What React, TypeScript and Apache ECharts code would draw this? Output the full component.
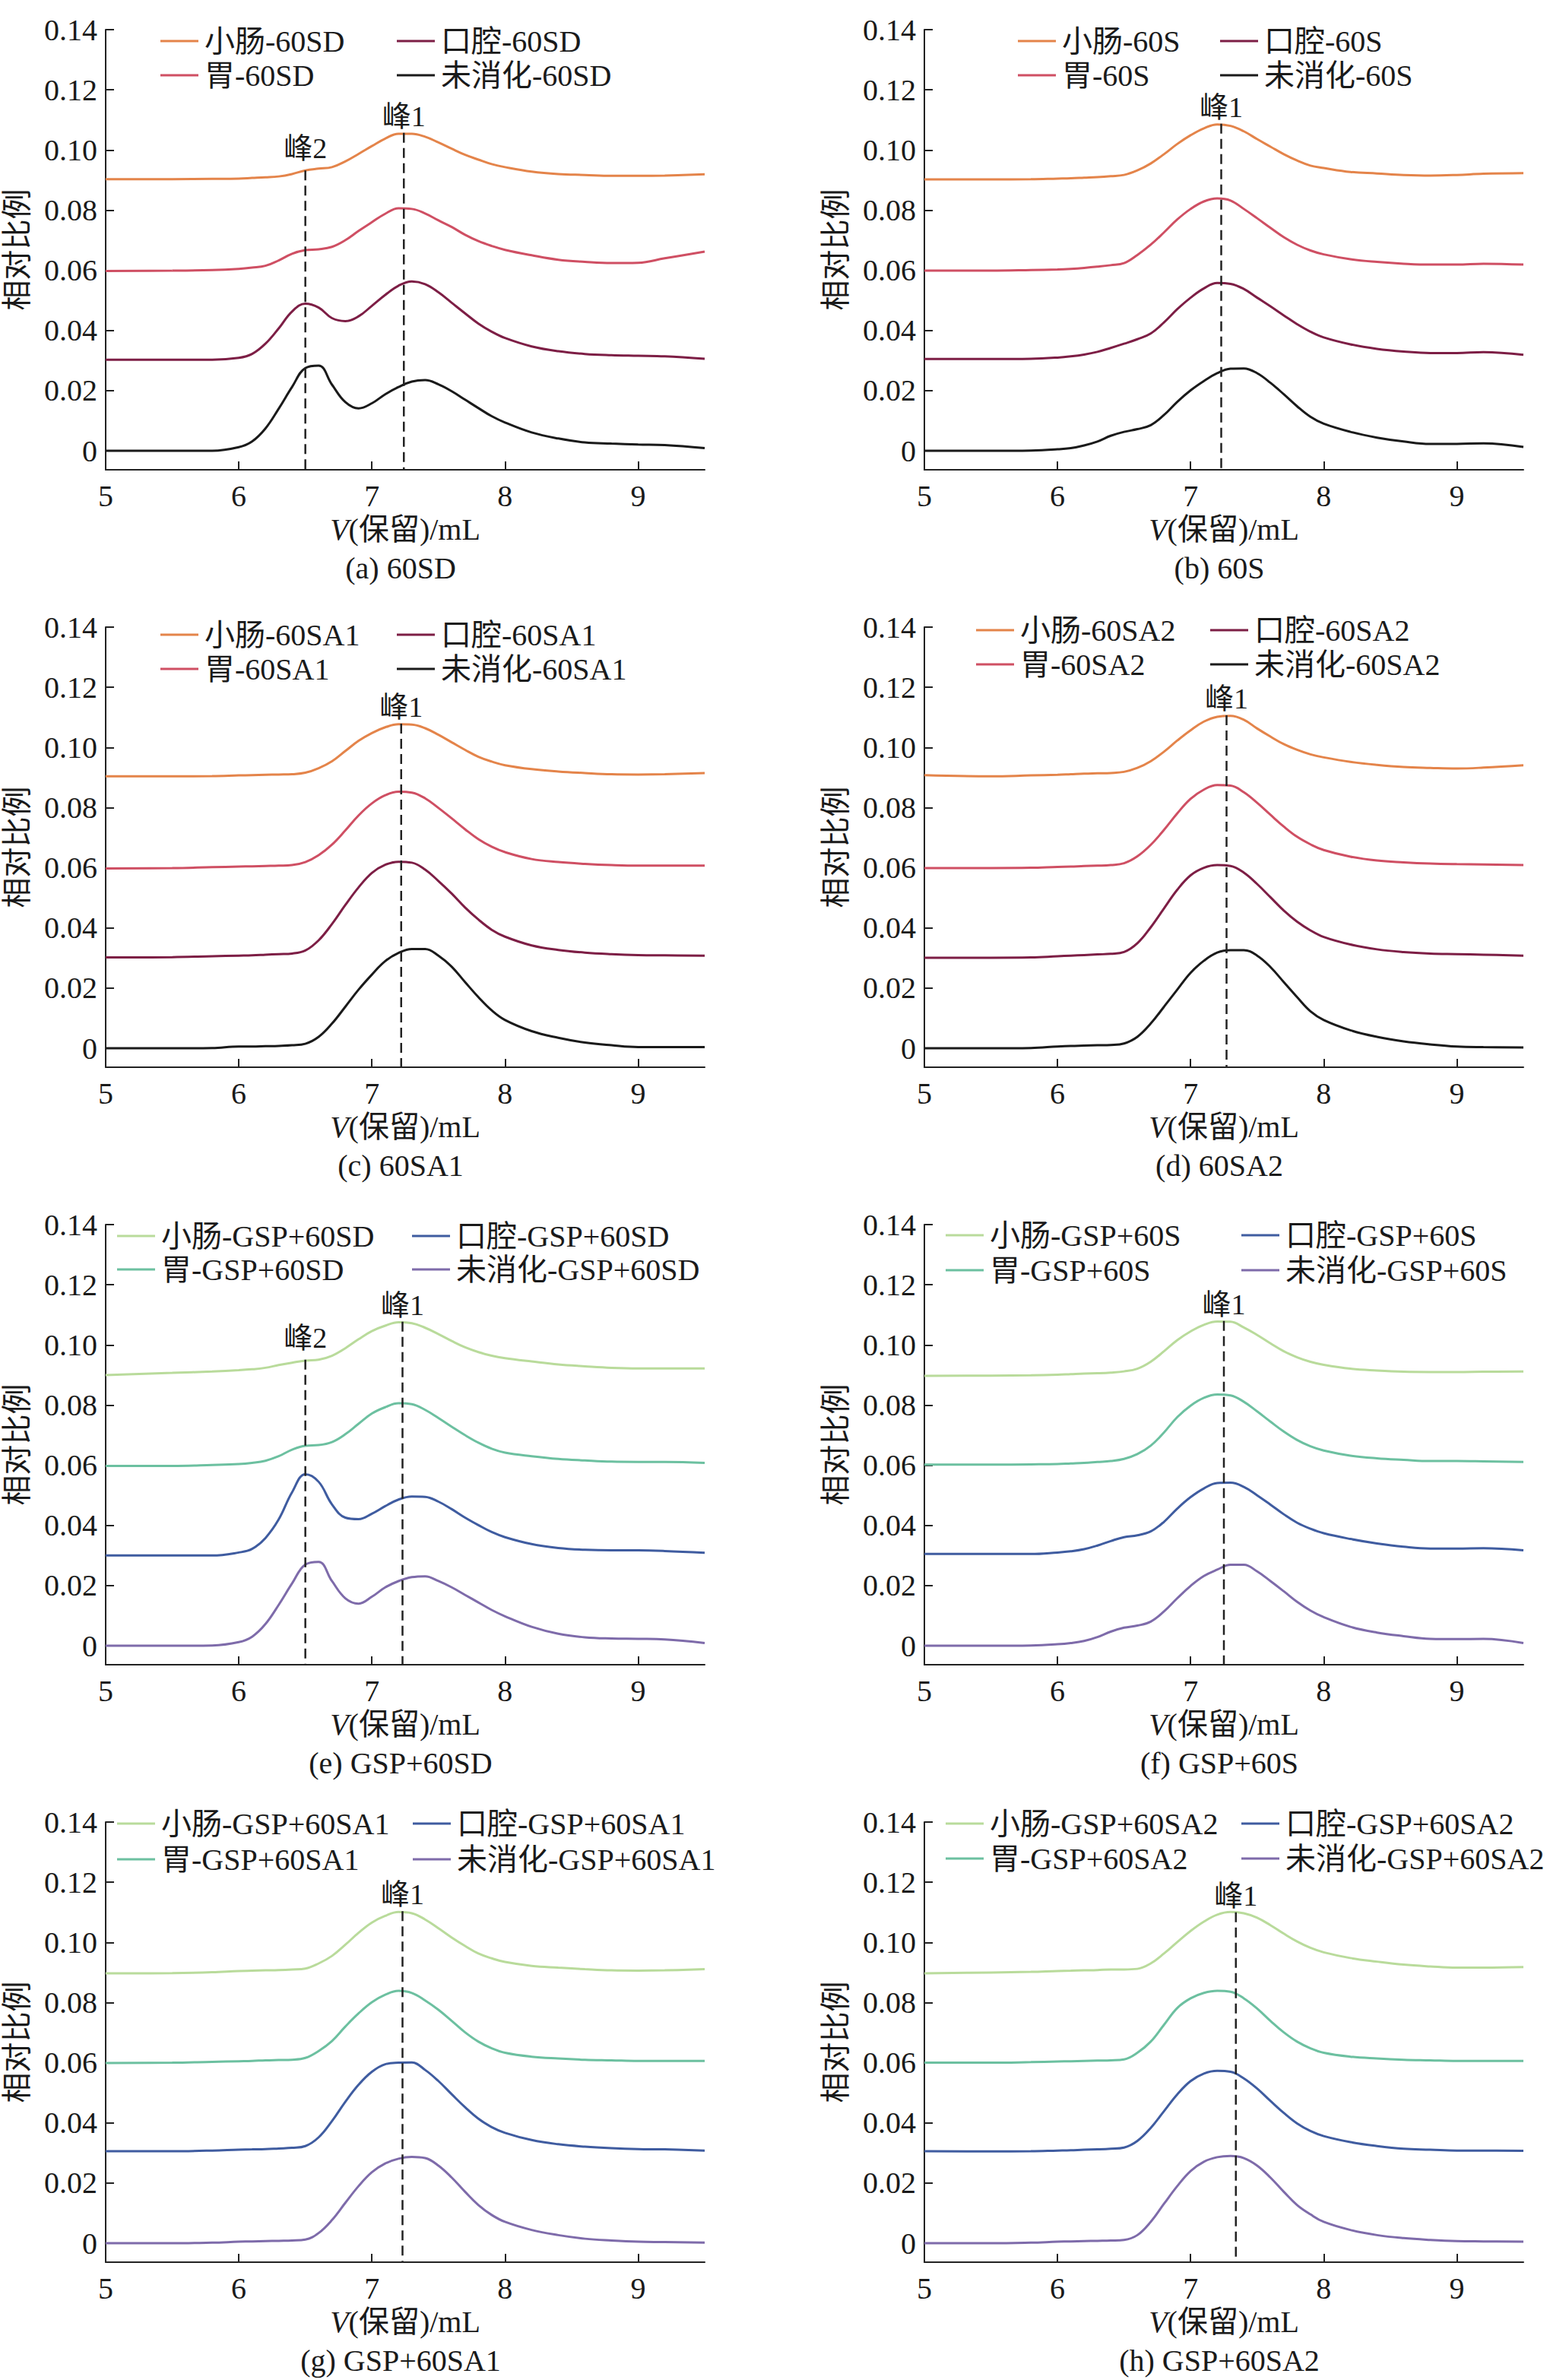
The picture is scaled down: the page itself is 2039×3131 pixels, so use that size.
import React, { useEffect, useRef } from "react";
import * as echarts from "echarts";

// ---------- shared axes ----------
const X = [5.0, 5.5, 5.8, 6.0, 6.1, 6.2, 6.3, 6.4, 6.5, 6.6, 6.7, 6.8, 6.9, 7.0, 7.1, 7.2, 7.3, 7.4, 7.5, 7.6, 7.7, 7.8, 7.9, 8.0, 8.2, 8.4, 8.6, 8.8, 9.0, 9.2, 9.5];
const X_TICKS = [5, 6, 7, 8, 9];
const Y_TICKS = [0, 0.02, 0.04, 0.06, 0.08, 0.1, 0.12, 0.14];
const X_MIN = 5;
const X_MAX = 9.5;
const Y_MIN = -0.0063;
const Y_MAX = 0.14;
const STAGES = ["小肠", "胃", "口腔", "未消化"];
const X_NAME = "{i|V}(保留)/mL";
const Y_NAME = "相对比例";

// ---------- (a) 60SD ----------
const SD_XC = [.0903, .0903, .0904, .0905, .0907, .0909, .0912, .0920, .0932, .0938, .0943, .0962, .0987, .1013, .1038, .1054, .1054, .1044, .1025, .1004, .0984, .0968, .0953, .0943, .0928, .0920, .0917, .0914, .0914, .0915, .0919];
const SD_WEI = [.0598, .0599, .0601, .0605, .0609, .0615, .0633, .0655, .0667, .0670, .0678, .0700, .0731, .0760, .0788, .0806, .0804, .0789, .0766, .0744, .0718, .0697, .0681, .0668, .0650, .0635, .0628, .0624, .0625, .0640, .0662];
const SD_KQ = [.0303, .0303, .0303, .0309, .0322, .0356, .0407, .0463, .0489, .0476, .0441, .0431, .0447, .0482, .0518, .0549, .0563, .0554, .0527, .0492, .0457, .0423, .0396, .0375, .0347, .0331, .0322, .0318, .0316, .0314, .0306];
const SD_WXH = [0, 0, 0, .0012, .0031, .0074, .0140, .0212, .0275, .0283, .0220, .0162, .0141, .0158, .0188, .0212, .0230, .0235, .0221, .0198, .0170, .0142, .0115, .0094, .0061, .0041, .0028, .0024, .0021, .0019, .0009];

// ---------- (b) 60S ----------
const S_XC = [.0902, .0902, .0903, .0905, .0906, .0908, .0910, .0913, .0917, .0932, .0955, .0986, .1020, .1049, .1072, .1085, .1080, .1062, .1036, .1011, .0986, .0965, .0948, .0940, .0927, .0922, .0917, .0915, .0917, .0921, .0923];
const S_WEI = [.0599, .0599, .0601, .0603, .0605, .0608, .0612, .0617, .0624, .0651, .0685, .0726, .0769, .0804, .0829, .0839, .0832, .0804, .0773, .0741, .0710, .0685, .0666, .0653, .0637, .0628, .0622, .0619, .0619, .0622, .0619];
const S_KQ = [.0305, .0305, .0306, .0310, .0314, .0320, .0329, .0342, .0356, .0371, .0390, .0427, .0471, .0509, .0540, .0558, .0555, .0538, .0509, .0480, .0450, .0421, .0396, .0377, .0354, .0339, .0330, .0325, .0325, .0328, .0319];
const S_WXH = [0, 0, .0001, .0005, .0009, .0018, .0031, .0050, .0063, .0072, .0085, .0119, .0163, .0201, .0232, .0258, .0273, .0274, .0258, .0226, .0188, .0148, .0113, .0090, .0063, .0044, .0031, .0023, .0023, .0025, .0013];

// ---------- (c) 60SA1 ----------
const SA1_XC = [.0904, .0904, .0905, .0907, .0908, .0909, .0910, .0911, .0916, .0931, .0954, .0988, .1022, .1048, .1067, .1077, .1076, .1064, .1042, .1017, .0992, .0969, .0953, .0941, .0928, .0920, .0915, .0911, .0910, .0911, .0915];
const SA1_WEI = [.0598, .0599, .0602, .0604, .0605, .0606, .0607, .0609, .0619, .0642, .0677, .0724, .0774, .0814, .0841, .0853, .0850, .0831, .0799, .0764, .0728, .0695, .0670, .0652, .0629, .0619, .0613, .0609, .0607, .0607, .0607];
const SA1_KQ = [.0302, .0303, .0306, .0308, .0309, .0311, .0313, .0315, .0325, .0359, .0413, .0476, .0535, .0583, .0610, .0620, .0617, .0594, .0556, .0514, .0468, .0428, .0394, .0371, .0342, .0327, .0318, .0313, .0310, .0309, .0308];
const SA1_WXH = [0, 0, .0001, .0006, .0006, .0007, .0008, .0010, .0015, .0038, .0082, .0138, .0195, .0245, .0290, .0317, .0330, .0330, .0308, .0271, .0220, .0170, .0126, .0094, .0057, .0035, .0019, .0010, .0004, .0004, .0004];

// ---------- (d) 60SA2 ----------
const SA2_XC = [.0908, .0904, .0907, .0909, .0911, .0913, .0914, .0915, .0919, .0932, .0954, .0986, .1023, .1057, .1086, .1102, .1105, .1092, .1063, .1036, .1011, .0992, .0977, .0967, .0952, .0942, .0935, .0932, .0930, .0933, .0941];
const SA2_WEI = [.0599, .0599, .0600, .0603, .0604, .0606, .0607, .0609, .0615, .0638, .0676, .0726, .0781, .0829, .0860, .0875, .0873, .0851, .0816, .0776, .0737, .0703, .0678, .0659, .0637, .0624, .0618, .0614, .0612, .0611, .0609];
const SA2_KQ = [.0301, .0301, .0302, .0306, .0308, .0310, .0312, .0314, .0320, .0349, .0402, .0465, .0527, .0575, .0600, .0609, .0606, .0584, .0546, .0502, .0458, .0421, .0392, .0370, .0345, .0329, .0320, .0315, .0313, .0311, .0308];
const SA2_WXH = [0, 0, .0001, .0006, .0008, .0009, .0010, .0011, .0016, .0038, .0082, .0138, .0195, .0251, .0291, .0318, .0326, .0326, .0308, .0270, .0220, .0170, .0123, .0094, .0060, .0038, .0023, .0013, .0006, .0004, .0003];

// ---------- (e) GSP+60SD ----------
const GSD_XC = [.0900, .0907, .0912, .0916, .0919, .0924, .0933, .0941, .0948, .0951, .0964, .0989, .1019, .1046, .1064, .1075, .1072, .1057, .1036, .1013, .0992, .0976, .0964, .0956, .0945, .0935, .0929, .0924, .0922, .0922, .0922];
const GSD_WEI = [.0598, .0598, .0601, .0604, .0608, .0615, .0630, .0652, .0665, .0667, .0677, .0703, .0738, .0772, .0793, .0806, .0803, .0784, .0757, .0728, .0700, .0675, .0655, .0642, .0630, .0621, .0616, .0612, .0611, .0611, .0608];
const GSD_KQ = [.0300, .0300, .0300, .0310, .0322, .0358, .0420, .0510, .0570, .0545, .0470, .0426, .0421, .0439, .0464, .0486, .0496, .0495, .0479, .0454, .0426, .0401, .0378, .0361, .0338, .0325, .0319, .0317, .0317, .0315, .0309];
const GSD_WXH = [0, 0, .0001, .0012, .0030, .0072, .0136, .0207, .0270, .0279, .0215, .0158, .0140, .0163, .0194, .0215, .0228, .0231, .0215, .0194, .0169, .0144, .0119, .0098, .0063, .0040, .0028, .0024, .0023, .0021, .0009];

// ---------- (f) GSP+60S ----------
const GS_XC = [.0897, .0898, .0899, .0901, .0903, .0905, .0906, .0908, .0912, .0921, .0944, .0979, .1016, .1045, .1067, .1078, .1077, .1058, .1033, .1005, .0979, .0959, .0944, .0934, .0921, .0915, .0911, .0910, .0910, .0911, .0912];
const GS_WEI = [.0602, .0602, .0603, .0604, .0606, .0608, .0611, .0614, .0621, .0637, .0665, .0709, .0760, .0798, .0824, .0835, .0832, .0811, .0779, .0745, .0712, .0684, .0663, .0649, .0632, .0623, .0618, .0614, .0614, .0613, .0611];
const GS_KQ = [.0305, .0305, .0305, .0310, .0314, .0321, .0333, .0348, .0361, .0367, .0380, .0412, .0456, .0494, .0523, .0541, .0542, .0528, .0500, .0469, .0437, .0409, .0389, .0374, .0355, .0340, .0329, .0323, .0323, .0324, .0317];
const GS_WXH = [0, 0, .0001, .0005, .0009, .0016, .0029, .0047, .0060, .0067, .0080, .0114, .0158, .0199, .0232, .0253, .0269, .0269, .0247, .0215, .0181, .0146, .0117, .0095, .0063, .0044, .0032, .0023, .0022, .0023, .0009];

// ---------- (g) GSP+60SA1 ----------
const GA1_XC = [.0897, .0898, .0901, .0905, .0906, .0907, .0908, .0910, .0913, .0930, .0955, .0992, .1032, .1066, .1088, .1101, .1097, .1076, .1047, .1016, .0988, .0963, .0947, .0935, .0922, .0916, .0911, .0907, .0906, .0907, .0911];
const GA1_WEI = [.0599, .0600, .0603, .0605, .0606, .0608, .0609, .0610, .0616, .0639, .0672, .0720, .0764, .0801, .0826, .0839, .0832, .0807, .0776, .0739, .0701, .0670, .0648, .0633, .0620, .0614, .0610, .0608, .0606, .0606, .0606];
const GA1_KQ = [.0306, .0306, .0308, .0311, .0312, .0313, .0315, .0317, .0323, .0352, .0406, .0470, .0527, .0570, .0595, .0600, .0601, .0576, .0539, .0495, .0452, .0414, .0386, .0367, .0343, .0329, .0321, .0316, .0313, .0312, .0308];
const GA1_WXH = [0, 0, .0002, .0005, .0006, .0007, .0008, .0009, .0012, .0034, .0077, .0134, .0190, .0236, .0265, .0281, .0287, .0283, .0258, .0218, .0171, .0127, .0094, .0071, .0044, .0027, .0015, .0009, .0005, .0004, .0002];

// ---------- (h) GSP+60SA2 ----------
const GA2_XC = [.0897, .0900, .0902, .0905, .0906, .0907, .0908, .0910, .0910, .0912, .0930, .0963, .1001, .1038, .1069, .1092, .1101, .1097, .1082, .1057, .1029, .1003, .0982, .0967, .0948, .0936, .0926, .0920, .0916, .0916, .0918];
const GA2_WEI = [.0600, .0600, .0602, .0604, .0605, .0606, .0607, .0608, .0611, .0633, .0670, .0726, .0782, .0814, .0832, .0839, .0836, .0814, .0780, .0739, .0701, .0670, .0648, .0633, .0620, .0614, .0610, .0608, .0606, .0606, .0606];
const GA2_KQ = [.0306, .0305, .0306, .0308, .0309, .0311, .0312, .0314, .0318, .0340, .0383, .0439, .0495, .0539, .0564, .0573, .0570, .0548, .0514, .0473, .0433, .0398, .0373, .0356, .0336, .0323, .0314, .0311, .0308, .0308, .0307];
const GA2_WXH = [0, 0, .0002, .0005, .0006, .0007, .0008, .0009, .0011, .0027, .0071, .0131, .0190, .0240, .0271, .0286, .0290, .0283, .0258, .0218, .0171, .0127, .0096, .0071, .0044, .0027, .0017, .0011, .0007, .0006, .0005];

// ---------- peaks (label, x, top of dashed line) ----------
const PEAKS_A = [{ label: "峰2", x: 6.5, top: 0.0932 }, { label: "峰1", x: 7.24, top: 0.1057 }];
const PEAKS_B = [{ label: "峰1", x: 7.23, top: 0.1087 }];
const PEAKS_C = [{ label: "峰1", x: 7.22, top: 0.1079 }];
const PEAKS_D = [{ label: "峰1", x: 7.27, top: 0.1107 }];
const PEAKS_E = [{ label: "峰2", x: 6.5, top: 0.0951 }, { label: "峰1", x: 7.23, top: 0.1077 }];
const PEAKS_F = [{ label: "峰1", x: 7.25, top: 0.108 }];
const PEAKS_G = [{ label: "峰1", x: 7.23, top: 0.1104 }];
const PEAKS_H = [{ label: "峰1", x: 7.34, top: 0.11 }];

// ---------- styles ----------
const PALETTE_A = ["#E4844A", "#CF4F63", "#7D1E45", "#1A1A1A"];
const PALETTE_B = ["#B9DB9B", "#6CC0A0", "#3F5CA0", "#7E6BAA"];
const FONT = "'Liberation Serif', 'Times New Roman', 'Noto Sans CJK SC', serif";
const TXT = "#1a1a1a";
const AXIS = "#222";

type Peak = { label: string; x: number; top: number };
type Spec = {
  tag: string;
  sample: string;
  row: number;
  col: number;
  series: number[][];
  palette: string[];
  peaks: Peak[];
  leg: number[]; // colA left, colB left, row1 center, row2 center
};

const PANELS: Spec[] = [
  { tag: "(a)", sample: "60SD", row: 0, col: 0, series: [SD_XC, SD_WEI, SD_KQ, SD_WXH], palette: PALETTE_A, peaks: PEAKS_A, leg: [211, 522, 55, 100] },
  { tag: "(b)", sample: "60S", row: 0, col: 1, series: [S_XC, S_WEI, S_KQ, S_WXH], palette: PALETTE_A, peaks: PEAKS_B, leg: [262, 528, 55, 100] },
  { tag: "(c)", sample: "60SA1", row: 1, col: 0, series: [SA1_XC, SA1_WEI, SA1_KQ, SA1_WXH], palette: PALETTE_A, peaks: PEAKS_C, leg: [211, 522, 50, 95] },
  { tag: "(d)", sample: "60SA2", row: 1, col: 1, series: [SA2_XC, SA2_WEI, SA2_KQ, SA2_WXH], palette: PALETTE_A, peaks: PEAKS_D, leg: [207, 515, 44, 89] },
  { tag: "(e)", sample: "GSP+60SD", row: 2, col: 0, series: [GSD_XC, GSD_WEI, GSD_KQ, GSD_WXH], palette: PALETTE_B, peaks: PEAKS_E, leg: [154, 542, 55, 99] },
  { tag: "(f)", sample: "GSP+60S", row: 2, col: 1, series: [GS_XC, GS_WEI, GS_KQ, GS_WXH], palette: PALETTE_B, peaks: PEAKS_F, leg: [167, 556, 54, 100] },
  { tag: "(g)", sample: "GSP+60SA1", row: 3, col: 0, series: [GA1_XC, GA1_WEI, GA1_KQ, GA1_WXH], palette: PALETTE_B, peaks: PEAKS_G, leg: [154, 543, 42, 89] },
  { tag: "(h)", sample: "GSP+60SA2", row: 3, col: 1, series: [GA2_XC, GA2_WEI, GA2_KQ, GA2_WXH], palette: PALETTE_B, peaks: PEAKS_H, leg: [167, 556, 42, 88] },
];

const textBase = { fontSize: 40, fontFamily: FONT, color: TXT };

function buildOption(spec: Spec) {
  const names = STAGES.map((s) => `${s}-${spec.sample}`);
  // legend slots: 小肠 (A,1), 胃 (A,2), 口腔 (B,1), 未消化 (B,2)
  const slots = [
    [spec.leg[0], spec.leg[2]],
    [spec.leg[0], spec.leg[3]],
    [spec.leg[1], spec.leg[2]],
    [spec.leg[1], spec.leg[3]],
  ];
  const legends = names.map((n, i) => ({
    left: slots[i][0],
    top: slots[i][1] - 21,
    padding: 0,
    icon: "rect",
    itemWidth: 50,
    itemHeight: 3,
    itemGap: 0,
    selectedMode: false,
    data: [n],
    textStyle: { ...textBase, padding: [0, 0, 0, 3] },
  }));

  const curves = spec.series.map((ys, i) => ({
    type: "line",
    name: names[i],
    data: X.map((x, j) => [x, ys[j]]),
    smooth: 0.4,
    symbol: "none",
    lineStyle: { color: spec.palette[i], width: 3 },
    itemStyle: { color: spec.palette[i] },
    z: 2,
  }));

  const peakLines = spec.peaks.map((p, k) => ({
    type: "line",
    name: `${p.label}-${spec.tag}-${k}`,
    data: [
      {
        value: [p.x, p.top],
        label: {
          show: true,
          formatter: p.label,
          position: "top",
          distance: p.label === "峰2" ? 10 : 3,
          fontSize: 38,
          fontFamily: FONT,
          color: TXT,
          textBorderWidth: 0,
          opacity: 1,
        },
      },
      [p.x, Y_MIN],
    ],
    symbol: "circle",
    symbolSize: 0.01,
    showSymbol: true,
    itemStyle: { color: "rgba(0,0,0,0)", borderWidth: 0 },
    lineStyle: { color: AXIS, width: 2.5, type: [13, 7] },
    silent: true,
    z: 3,
  }));

  return {
    animation: false,
    grid: { left: 139, top: 39, width: 788, height: 579, containLabel: false, outerBoundsMode: "none" },
    xAxis: {
      type: "value",
      min: X_MIN,
      max: X_MAX,
      name: X_NAME,
      nameLocation: "middle",
      nameGap: 57,
      nameTextStyle: { ...textBase, rich: { i: { ...textBase, fontStyle: "italic" } } },
      axisLine: { show: true, onZero: false, lineStyle: { color: AXIS, width: 2 } },
      axisTick: { show: true, inside: true, length: 11, customValues: X_TICKS, lineStyle: { color: AXIS, width: 2 } },
      axisLabel: { ...textBase, margin: 14, customValues: X_TICKS, formatter: (v: number) => String(v) },
      splitLine: { show: false },
    },
    yAxis: {
      type: "value",
      min: Y_MIN,
      max: Y_MAX,
      name: Y_NAME,
      nameLocation: "middle",
      nameGap: 97,
      nameTextStyle: { ...textBase },
      axisLine: { show: true, onZero: false, lineStyle: { color: AXIS, width: 2 } },
      axisTick: { show: true, inside: true, length: 11, customValues: Y_TICKS, lineStyle: { color: AXIS, width: 2 } },
      axisLabel: {
        ...textBase,
        margin: 11,
        customValues: Y_TICKS,
        formatter: (v: number) => (v === 0 ? "0" : v.toFixed(2)),
      },
      splitLine: { show: false },
    },
    legend: legends,
    series: [...curves, ...peakLines],
    graphic: [
      {
        type: "text",
        x: 527,
        y: 747,
        style: {
          text: `${spec.tag} ${spec.sample}`,
          textAlign: "center",
          textVerticalAlign: "middle",
          fontSize: 40,
          fontFamily: FONT,
          fill: TXT,
        },
      },
    ],
  };
}

function Panel({ spec }: { spec: Spec }) {
  const ref = useRef<HTMLDivElement>(null);
  useEffect(() => {
    if (!ref.current) return;
    const chart = echarts.init(ref.current, null, { renderer: "svg" });
    chart.setOption(buildOption(spec) as any);
    return () => chart.dispose();
  }, [spec]);
  return (
    <div
      ref={ref}
      style={{
        position: "absolute",
        left: spec.col * 1077,
        top: spec.row * 786,
        width: spec.col === 0 ? 1077 : 962,
        height: 786,
      }}
    />
  );
}

export default function App() {
  return (
    <div style={{ position: "absolute", left: 0, top: 0, width: 2039, height: 3131, background: "#fff", overflow: "hidden" }}>
      {PANELS.map((p) => (
        <Panel key={p.tag} spec={p} />
      ))}
    </div>
  );
}
